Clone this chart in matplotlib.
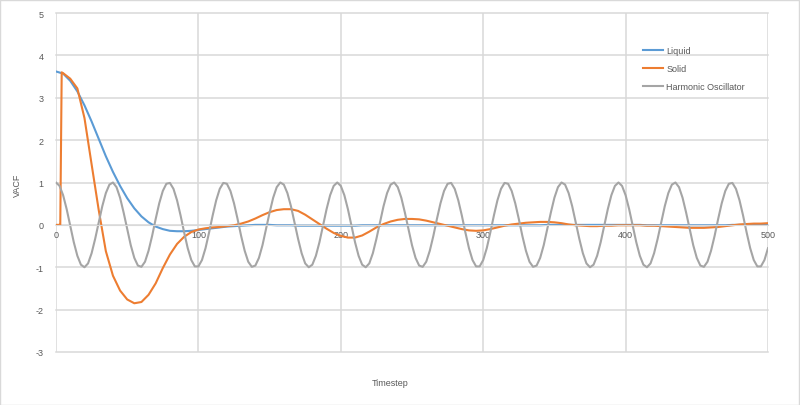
import numpy as np
import matplotlib.pyplot as plt
from matplotlib.patches import Rectangle

# timesteps
t_liquid = np.arange(0, 501, 5)
t_solid = np.concatenate([[0, 1, 2, 3, 4], np.arange(5, 501, 5)])
t_osc = np.arange(0, 500.1, 2.5)

liquid = [3.62, 3.57, 3.40, 3.15, 2.82, 2.44, 2.03, 1.62, 1.25, 0.92,
          0.63, 0.39, 0.20, 0.06, -0.04, -0.10, -0.14, -0.15, -0.15, -0.14,
          -0.12, -0.10, -0.08, -0.06, -0.04, -0.03, -0.02, -0.01, 0.00, 0.00,
          0.00, -0.01, -0.01, -0.01, -0.02, -0.02, -0.02, -0.02, -0.02, -0.02,
          -0.02, -0.02, -0.02, -0.01, -0.01, -0.01, -0.01, -0.01, -0.01, -0.01,
          -0.01, -0.01, -0.01, -0.01, -0.01, -0.01, -0.01, -0.01, -0.01, -0.01,
          -0.01, -0.01, -0.01, -0.01, -0.01, -0.01, -0.01, -0.01, -0.01, 0.00,
          0.00, 0.00, 0.00, 0.00, 0.00, 0.00, 0.00, 0.00, 0.00, 0.00,
          0.00, 0.00, 0.00, -0.01, -0.01, -0.01, -0.01, -0.01, -0.01, -0.01,
          -0.01, -0.01, -0.01, -0.01, -0.01, 0.00, 0.00, 0.00, 0.00, 0.00,
          0.00]

solid = [0.00, 0.00, 0.00, 0.00, 3.60,
         3.58, 3.45, 3.22, 2.52, 1.43, 0.35, -0.62, -1.20, -1.55, -1.76,
         -1.85, -1.82, -1.65, -1.38, -1.02, -0.70, -0.45, -0.28, -0.17, -0.11,
         -0.08, -0.06, -0.05, -0.03, -0.01, 0.03, 0.08, 0.15, 0.23, 0.30,
         0.35, 0.37, 0.37, 0.33, 0.24, 0.13, 0.02, -0.09, -0.19, -0.26,
         -0.30, -0.30, -0.25, -0.16, -0.06, 0.02, 0.08, 0.12, 0.14, 0.14,
         0.13, 0.10, 0.06, 0.02, -0.02, -0.06, -0.10, -0.13, -0.14, -0.13,
         -0.10, -0.06, -0.02, 0.01, 0.03, 0.05, 0.06, 0.07, 0.07, 0.06,
         0.04, 0.01, -0.01, -0.02, -0.03, -0.03, -0.02, -0.02, -0.01, -0.01,
         -0.01, -0.01, -0.02, -0.02, -0.03, -0.04, -0.05, -0.06, -0.07, -0.07,
         -0.07, -0.06, -0.05, -0.03, -0.01, 0.01, 0.02, 0.03, 0.03, 0.04]

oscillator = [
    1.00, 0.92, 0.70, 0.37, -0.02, -0.41, -0.73, -0.94, -1.00, -0.91, -0.67, -0.33, 0.06, 0.44, 0.75, 0.95,
    1.00, 0.89, 0.64, 0.29, -0.10, -0.48, -0.78, -0.96, -0.99, -0.87, -0.61, -0.26, 0.14, 0.51, 0.80, 0.97,
    0.99, 0.85, 0.58, 0.22, -0.18, -0.55, -0.83, -0.98, -0.98, -0.83, -0.55, -0.18, 0.22, 0.58, 0.85, 0.99,
    0.97, 0.80, 0.51, 0.14, -0.26, -0.61, -0.87, -0.99, -0.96, -0.78, -0.48, -0.10, 0.29, 0.64, 0.89, 1.00,
    0.95, 0.75, 0.44, 0.06, -0.33, -0.67, -0.91, -1.00, -0.94, -0.73, -0.41, -0.02, 0.37, 0.70, 0.92,
    1.00, 0.92, 0.70, 0.37, -0.02, -0.41, -0.73, -0.94, -1.00, -0.91, -0.67, -0.33, 0.06, 0.44, 0.75, 0.95,
    1.00, 0.89, 0.64, 0.29, -0.10, -0.48, -0.78, -0.96, -0.99, -0.87, -0.61, -0.26, 0.14, 0.51, 0.80, 0.97,
    0.99, 0.85, 0.58, 0.22, -0.18, -0.55, -0.83, -0.98, -0.98, -0.83, -0.55, -0.18, 0.22, 0.58, 0.85, 0.99,
    0.97, 0.80, 0.51, 0.14, -0.26, -0.61, -0.87, -0.99, -0.96, -0.78, -0.48, -0.10, 0.29, 0.64, 0.89, 1.00,
    0.95, 0.75, 0.44, 0.06, -0.33, -0.67, -0.91, -1.00, -0.94, -0.73, -0.41, -0.02, 0.37, 0.70, 0.92,
    1.00, 0.92, 0.70, 0.37, -0.02, -0.41, -0.73, -0.94, -1.00, -0.91, -0.67, -0.33, 0.06, 0.44, 0.75, 0.95,
    1.00, 0.89, 0.64, 0.29, -0.10, -0.48, -0.78, -0.96, -0.99, -0.87, -0.61, -0.26, 0.14, 0.51, 0.80, 0.97,
    0.99, 0.85, 0.58, 0.22, -0.18, -0.55, -0.83, -0.98, -0.98, -0.83, -0.55]

series_names = ['Liquid', 'Solid', 'Harmonic Oscillator']
colors = ['#5B9BD5', '#ED7D31', '#A5A5A5']

plt.rcParams['font.family'] = ['Liberation Sans', 'DejaVu Sans']
plt.rcParams['axes.unicode_minus'] = False
txt = '#595959'
grid_c = '#d9d9d9'

fig = plt.figure(figsize=(8, 4.06), dpi=100)
ax = fig.add_axes([56 / 800, 1 - 353 / 406, 712 / 800, 339 / 406])

ax.plot(t_liquid, liquid, color=colors[0], lw=1.5, label=series_names[0])
ax.plot(t_solid, solid, color=colors[1], lw=1.5, label=series_names[1])
ax.plot(t_osc, oscillator, color=colors[2], lw=1.5, label=series_names[2])

ax.set_xlim(0, 500)
ax.set_ylim(-3, 5)
ax.set_xticks(np.arange(0, 501, 100))
ax.set_yticks(np.arange(-3, 6, 1))
ax.grid(True, color=grid_c, lw=1.1)
ax.set_axisbelow(True)
for ln in ax.get_xgridlines() + ax.get_ygridlines():
    ln.set_clip_on(False)

for s in ['top', 'right', 'left']:
    ax.spines[s].set_visible(False)
ax.spines['bottom'].set_position(('data', 0))
ax.spines['bottom'].set_color(grid_c)
ax.tick_params(axis='both', length=0, labelsize=6.5, labelcolor=txt)
ax.tick_params(axis='x', pad=4)
ax.tick_params(axis='y', pad=9)

fig.text(17 / 800, 1 - 185 / 406, 'VACF', rotation=90, fontsize=6.5,
         color=txt, ha='center', va='center')
fig.text(390 / 800, 1 - 384 / 406, 'Timestep', fontsize=6.5,
         color=txt, ha='center', va='center')

ax.legend(loc='upper left', bbox_to_anchor=(643 / 800, 1 - 47 / 406),
          bbox_transform=fig.transFigure, frameon=False, fontsize=6.5,
          labelcolor=txt, handlelength=2.2, handletextpad=0.4,
          labelspacing=1.0, borderpad=0, borderaxespad=0)

fig.patches.append(Rectangle((0.0005, 0.001), 0.998, 0.997, transform=fig.transFigure,
                             fill=False, edgecolor=grid_c, lw=1))

fig.savefig('out.png', dpi=100)
